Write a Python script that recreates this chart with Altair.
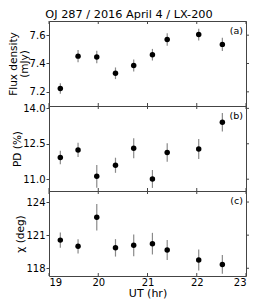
import altair as alt
import pandas as pd

ut = [19.23, 19.59, 19.97, 20.35, 20.72, 21.10, 21.40, 22.04, 22.52]
flux = [7.223, 7.452, 7.446, 7.331, 7.386, 7.462, 7.570, 7.604, 7.535]
flux_err = [0.037, 0.043, 0.044, 0.041, 0.043, 0.041, 0.044, 0.041, 0.047]
pd_vals = [11.92, 12.24, 11.12, 11.59, 12.31, 11.01, 12.13, 12.28, 13.41]
pd_err = [0.29, 0.30, 0.48, 0.32, 0.42, 0.38, 0.39, 0.42, 0.39]
chi = [120.55, 119.99, 122.63, 119.85, 120.08, 120.23, 119.66, 118.74, 118.35]
chi_err = [0.70, 0.65, 1.20, 0.79, 0.98, 0.98, 0.90, 0.95, 0.85]

x_ticks = [19, 20, 21, 22, 23]
x_domain = [19, 23]

panels = [
    dict(vals=flux, err=flux_err, domain=[7.1, 7.7], ticks=[7.2, 7.4, 7.6],
         title=["Flux density", "(mJy)"], label="(a)", fmt=".1f"),
    dict(vals=pd_vals, err=pd_err, domain=[10.5, 14.1], ticks=[11.0, 12.5, 14.0],
         title="PD (%)", label="(b)", fmt=".1f"),
    dict(vals=chi, err=chi_err, domain=[117.3, 125.0], ticks=[118, 121, 124],
         title="χ (deg)", label="(c)", fmt="d"),
]

FONT = "DejaVu Sans"
W, H = 197, 85
TK = 3
TC = "#444"

xt_df = pd.DataFrame({"ut": x_ticks})

charts = []
for i, p in enumerate(panels):
    last = i == len(panels) - 1
    df = pd.DataFrame({"ut": ut, "v": p["vals"],
                       "lo": [v - e for v, e in zip(p["vals"], p["err"])],
                       "hi": [v + e for v, e in zip(p["vals"], p["err"])]})
    yt_df = pd.DataFrame({"v": p["ticks"]})
    xscale = alt.Scale(domain=x_domain, nice=False, zero=False)
    yscale = alt.Scale(domain=p["domain"], nice=False, zero=False)
    if last:
        xaxis = alt.Axis(values=x_ticks, title="UT (hr)", format="d",
                         tickSize=0, domain=False,
                         labelFont=FONT, labelFontSize=10, labelColor="black", labelPadding=1,
                         titleFont=FONT, titleFontSize=11, titleFontWeight="normal",
                         titleColor="black", titlePadding=0, grid=False)
    else:
        xaxis = None
    yaxis = alt.Axis(values=p["ticks"], title=p["title"], format=p["fmt"],
                     tickSize=3, domain=False, tickColor=TC,
                     labelFont=FONT, labelFontSize=10, labelColor="black", labelPadding=1,
                     titleFont=FONT, titleFontSize=10.5, titleFontWeight="normal",
                     titleColor="black", titlePadding=0, titleLineHeight=10.5, grid=False)
    base = alt.Chart(df)
    err = base.mark_rule(color="#8a8a8a", strokeWidth=1.2).encode(
        x=alt.X("ut:Q", scale=xscale, axis=xaxis),
        y=alt.Y("lo:Q", scale=yscale, axis=yaxis),
        y2="hi:Q",
    )
    pts = base.mark_circle(color="black", size=30, opacity=1).encode(
        x=alt.X("ut:Q", scale=xscale),
        y=alt.Y("v:Q", scale=yscale),
    )
    xt_bot = alt.Chart(xt_df).mark_rule(color=TC, strokeWidth=1).encode(
        x=alt.X("ut:Q", scale=xscale), y=alt.value(H - TK), y2=alt.value(H))
    xt_top = alt.Chart(xt_df).mark_rule(color=TC, strokeWidth=1).encode(
        x=alt.X("ut:Q", scale=xscale), y=alt.value(0), y2=alt.value(TK))
    yt_right = alt.Chart(yt_df).mark_rule(color=TC, strokeWidth=1).encode(
        y=alt.Y("v:Q", scale=yscale), x=alt.value(W), x2=alt.value(W + TK))
    lab = alt.Chart(pd.DataFrame({"t": [p["label"]]})).mark_text(
        align="right", baseline="top", font=FONT, fontSize=9.5, color="black"
    ).encode(x=alt.value(W - 3), y=alt.value(5), text="t:N")
    layer = alt.layer(err, pts, xt_bot, xt_top, yt_right, lab).properties(width=W, height=H)
    charts.append(layer)

chart = alt.vconcat(*charts, spacing=0, bounds="flush").properties(
    title=alt.Title("OJ 287 / 2016 April 4 / LX-200", font=FONT, fontSize=11.3,
                    fontWeight="normal", color="black", anchor="middle", offset=0),
    padding={"left": 0, "top": 0, "right": 2, "bottom": 0},
).configure_view(stroke="#444", strokeWidth=1).configure_concat(spacing=0)

chart.save("out.html", embed_options={"renderer": "svg", "actions": False})
